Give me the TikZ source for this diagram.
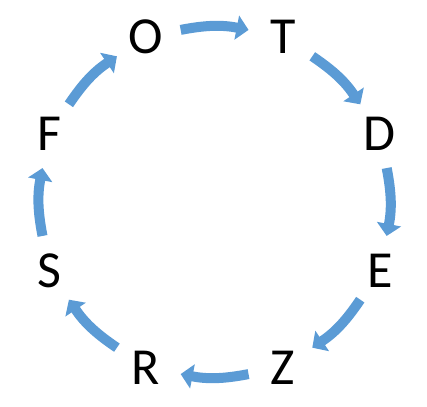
\documentclass[tikz,border=0pt]{standalone}
\usepackage{fontspec}
\setmainfont{Carlito}
\usetikzlibrary{arrows.meta}
\definecolor{cycleblue}{RGB}{91,155,213}

\begin{document}
\begin{tikzpicture}[
  x=1pt, y=1pt,
  letter/.style={circle, minimum size=70pt, inner sep=0pt, text=black,
    font=\fontsize{52}{60}\selectfont},
  flow/.style={-{Triangle[length=12pt,width=24pt]}, line width=10pt,
    draw=cycleblue, bend left=11}
]
\useasboundingbox (-214.6,-204) rectangle (212.4,202);
\node[letter] (o) at (112.5:179) {O};
\node[letter] (t) at (67.5:179) {T};
\node[letter] (d) at (22.5:179) {D};
\node[letter] (e) at (-22.5:179) {E};
\node[letter] (z) at (-67.5:179) {Z};
\node[letter] (r) at (-112.5:179) {R};
\node[letter] (s) at (-157.5:179) {S};
\node[letter] (f) at (157.5:179) {F};

\draw[flow] (o) to (t);
\draw[flow] (t) to (d);
\draw[flow] (d) to (e);
\draw[flow] (e) to (z);
\draw[flow] (z) to (r);
\draw[flow] (r) to (s);
\draw[flow] (s) to (f);
\draw[flow] (f) to (o);

\end{tikzpicture}
\end{document}
